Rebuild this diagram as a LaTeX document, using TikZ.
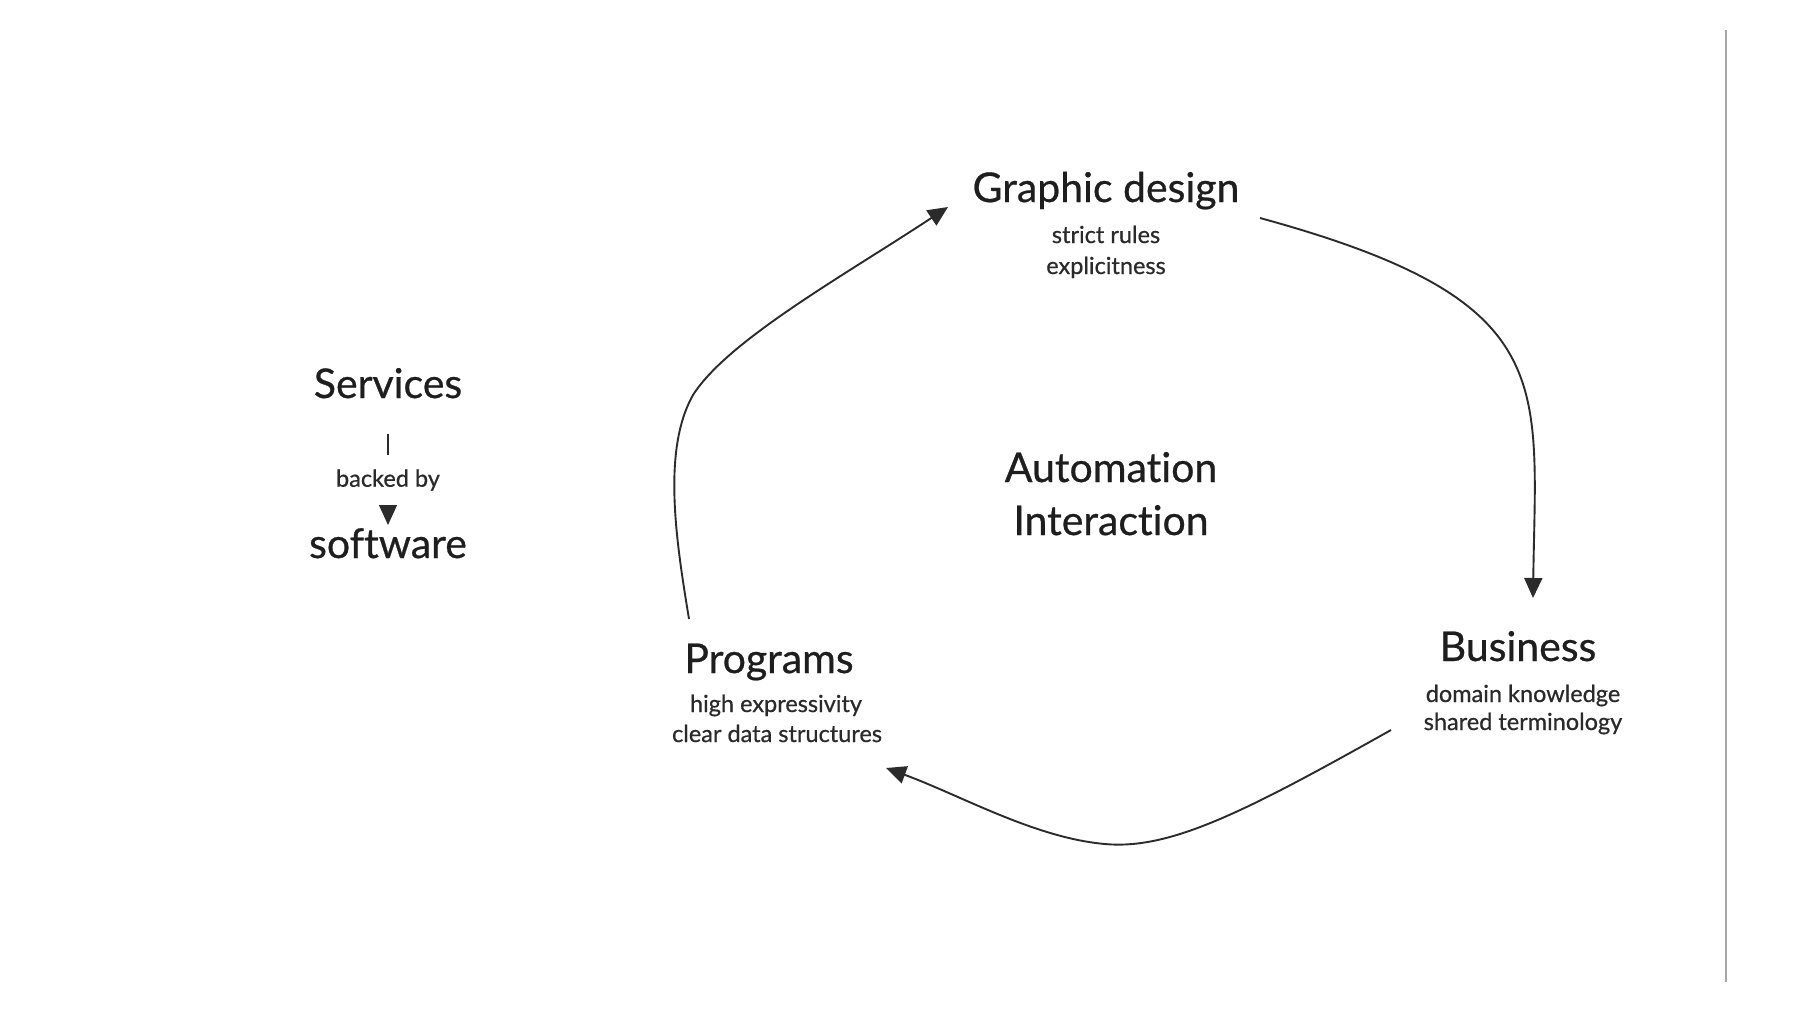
\documentclass[tikz,border=0pt]{standalone}
\usepackage{fontspec}
\setmainfont{Lato}[Ligatures={NoCommon}, FakeBold=0.6]
\usetikzlibrary{arrows.meta}
\definecolor{ink}{HTML}{1E1E1E}
\definecolor{subink}{HTML}{2A2A2A}
\definecolor{lineink}{HTML}{2B2B2B}
\definecolor{rulegray}{HTML}{A8A8A8}
\begin{document}
\begin{tikzpicture}[x=1pt,y=-1pt,
  title/.style={anchor=base, inner sep=0pt, text=ink, font=\fontsize{41}{49}\selectfont},
  subtitle/.style={anchor=base, inner sep=0pt, text=subink, font=\fontsize{23.5}{28}\selectfont},
  linklabel/.style={fill=white, inner xsep=3pt, minimum height=50pt, text=subink, font=\fontsize{23.5}{28}\selectfont},
  flow/.style={draw=lineink, line width=1.9pt, -{Triangle[length=20pt,width=18pt]}},
  smallflow/.style={draw=lineink, line width=1.2pt, -{Triangle[length=20pt,width=18pt]}}]
\fill[white] (0,0) rectangle (1800,1013);
\useasboundingbox (0,0) rectangle (1800,1013);

% right rule
\draw[rulegray, line width=2pt] (1726,30) -- (1726,982);

% left: services backed by software
\node[title] (services) at (388,398) {Services};
\node[title] (software) at (388,558) {software};
\draw[smallflow, shorten <=35pt, shorten >=3pt] (services) -- node[linklabel, pos=0.63] (backed) {backed by} (software);

% cycle nodes
\node[title] (gd) at (1106,202) {Graphic design};
\node[subtitle] (gd1) at (1106,243) {strict rules};
\node[subtitle] (gd2) at (1106,274) {explicitness};

\node[title] (auto) at (1111,482) {Automation};
\node[title] (inter) at (1111,535) {Interaction};

\node[title] (prog) at (769,673) {Programs};
\node[subtitle] (prog1) at (776,712) {high expressivity};
\node[subtitle] (prog2) at (777,742) {clear data structures};

\node[title] (bus) at (1518,661) {Business};
\node[subtitle] (bus1) at (1523,702) {domain knowledge};
\node[subtitle] (bus2) at (1523,730) {shared terminology};

% connector ends
\coordinate (p-out) at (689,619);
\coordinate (g-in) at (948,207);
\coordinate (g-out) at (1260,218);
\coordinate (b-in) at (1533,598);
\coordinate (b-out) at (1391,730);
\coordinate (p-in) at (886,768);

\draw[flow] (p-out) .. controls (676,540) and (662,450) .. (693,395)
  .. controls (728,340) and (845,275) .. (g-in);
\draw[flow] (g-out) .. controls (1560,300) and (1536,380) .. (b-in);
\draw[flow] (b-out) .. controls (1245,812) and (1170,850) .. (1105,844)
  .. controls (1035,838) and (960,795) .. (p-in);
\end{tikzpicture}
\end{document}
